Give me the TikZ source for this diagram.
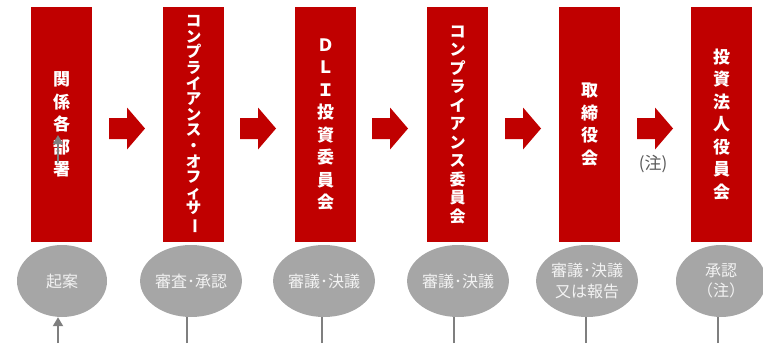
\documentclass[tikz,border=0pt]{standalone}
\usepackage{fontspec}
\usepackage{graphicx}
\newfontfamily\jp{Noto Sans CJK JP}
\usetikzlibrary{shapes.geometric,arrows.meta}
\definecolor{dred}{HTML}{C00000}
\definecolor{egray}{HTML}{A6A6A6}
\definecolor{lgray}{HTML}{7F7F7F}
\definecolor{tgray}{HTML}{595959}
\definecolor{etext}{HTML}{F2F2F2}
\newcommand{\vbar}{\rotatebox[origin=c]{-90}{ー}}
\begin{document}
\begin{tikzpicture}[x=1pt,y=-1pt,
  redbox/.style={fill=dred, minimum width=61pt, minimum height=235pt, inner sep=0pt,
    text=white, align=center, font={\jp\bfseries\fontsize{17}{22.5}\selectfont}},
  stepell/.style={ellipse, fill=egray, minimum width=90pt, minimum height=72pt, inner sep=0pt,
    text=etext, align=center, font={\jp\fontsize{16}{20.5}\selectfont}},
  gline/.style={draw=lgray, line width=2pt},
  ghead/.style={-{Triangle[width=10pt,length=9pt]}},
  notetext/.style={text=tgray, font={\jp\fontsize{17}{18}\selectfont}, inner sep=0pt},
  blockarrow/.pic={\fill[dred] (0,-10.5) -- (18,-10.5) -- (18,-21) -- (36,0) -- (18,21) -- (18,10.5) -- (0,10.5) -- cycle;}
]
\useasboundingbox (0,0) rectangle (763,343);
% boxes
\node[redbox] (b1) at (61.5,124.5) {関\\係\\各\\部\\署};
\node[redbox, font={\jp\bfseries\fontsize{15.5}{15.6}\selectfont}] (b2) at (193.5,124.5)
  {コ\\ン\\プ\\ラ\\イ\\ア\\ン\\ス\\・\\オ\\フ\\ィ\\サ\\\vbar};
\node[redbox] (b3) at (325.5,124.5) {Ｄ\\Ｌ\\Ｉ\\投\\資\\委\\員\\会};
\node[redbox, font={\jp\bfseries\fontsize{16}{18.5}\selectfont}] (b4) at (457.5,124.5)
  {コ\\ン\\プ\\ラ\\イ\\ア\\ン\\ス\\委\\員\\会};
\node[redbox] (b5) at (589.5,124.5) {取\\締\\役\\会};
\node[redbox] (b6) at (721.5,124.5) {投\\資\\法\\人\\役\\員\\会};
% block arrows
\pic at (109,128.5) {blockarrow};
\pic at (240,128.5) {blockarrow};
\pic at (372,128.5) {blockarrow};
\pic at (505,128.5) {blockarrow};
\pic at (637,128.5) {blockarrow};
\node[notetext] (n1) at (653,164) {(注)};
% ellipses
\node[stepell] (e1) at (62,281) {起案};
\node[stepell] (e2) at (191,281) {審査･承認};
\node[stepell] (e3) at (324,281) {審議･決議};
\node[stepell] (e4) at (458,281) {審議･決議};
\node[stepell] (e5) at (587,281) {審議･決議\\又は報告};
\node[stepell] (e6) at (721,281) {承認\\（注）};
% lines below
\coordinate (s1) at (58,343);
\coordinate (s2) at (187,343);
\coordinate (s3) at (322,343);
\coordinate (s4) at (454,343);
\coordinate (s5) at (586,343);
\coordinate (s6) at (718,343);
\draw[gline,ghead] (s1) -- (s1 |- e1.south);
\draw[gline] (s2) -- (s2 |- e2.south);
\draw[gline] (s3) -- (s3 |- e3.south);
\draw[gline] (s4) -- (s4 |- e4.south);
\draw[gline] (s5) -- (s5 |- e5.south);
\draw[gline] (s6) -- (s6 |- e6.south);
% arrow over box 1
\coordinate (p1) at (58,163);
\coordinate (p2) at (58,135);
\draw[gline,ghead] (p1) -- (p2);
\end{tikzpicture}
\end{document}
